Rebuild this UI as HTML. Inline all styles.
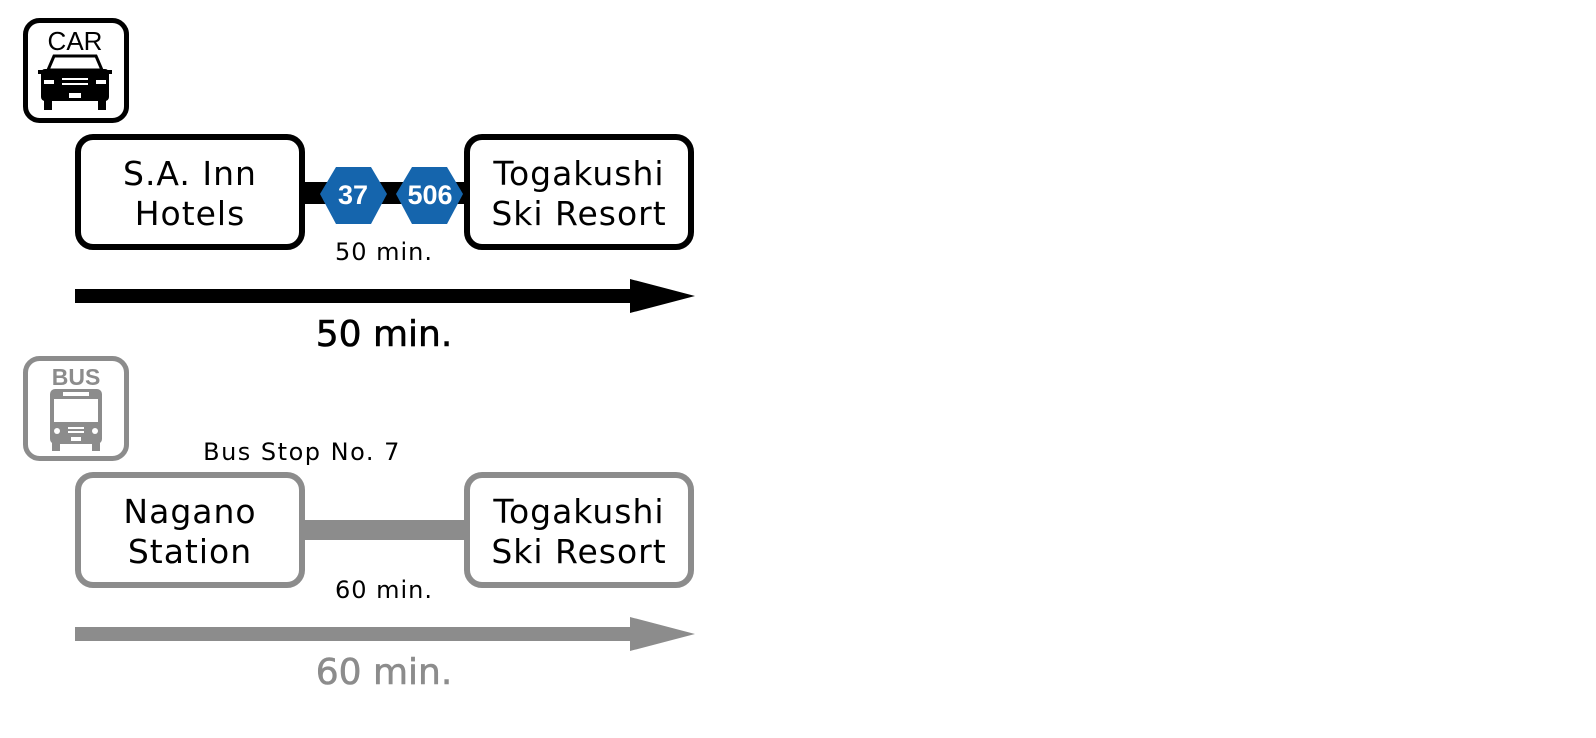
<!DOCTYPE html>
<html><head><meta charset="utf-8"><style>
body{margin:0;width:1596px;height:734px;background:#fff;overflow:hidden;font-family:"DejaVu Sans","Liberation Sans",sans-serif}
</style></head><body>
<svg width="1596" height="734" xmlns="http://www.w3.org/2000/svg" font-family="DejaVu Sans, Liberation Sans, sans-serif">
<!-- CAR icon -->
<rect x="25.5" y="20.5" width="101" height="100" rx="14" fill="#fff" stroke="#000" stroke-width="5"/>
<text x="75" y="50" text-anchor="middle" font-family="Liberation Sans, sans-serif" font-size="26" fill="#000">CAR</text>
<path d="M54 56 L96 56 L102 70 L48 70 Z" fill="none" stroke="#000" stroke-width="3"/>
<rect x="41" y="69" width="68" height="32" rx="4" fill="#000"/>
<rect x="38" y="70" width="6" height="4" fill="#000"/><rect x="106" y="70" width="6" height="4" fill="#000"/>
<rect x="44" y="80" width="10" height="4" fill="#fff"/><rect x="96" y="80" width="10" height="4" fill="#fff"/>
<rect x="62" y="78" width="26" height="2" fill="#fff"/><rect x="62" y="83" width="26" height="2" fill="#fff"/>
<rect x="69" y="93" width="12" height="5" fill="#fff"/>
<rect x="44" y="100" width="8" height="10" fill="#000"/><rect x="98" y="100" width="8" height="10" fill="#000"/>
<!-- car boxes -->
<rect x="302" y="182" width="166" height="22" fill="#000"/>
<rect x="78" y="137" width="224" height="110" rx="15" fill="#fff" stroke="#000" stroke-width="6"/>
<rect x="467" y="137" width="224" height="110" rx="15" fill="#fff" stroke="#000" stroke-width="6"/>
<polygon points="320,194 336,167 371,167 387,194 371,224 336,224" fill="#1565ad"/>
<polygon points="396,194 412,167 447,167 463,194 447,224 412,224" fill="#1565ad"/>
<text x="353" y="204" text-anchor="middle" font-family="Liberation Sans, sans-serif" font-weight="bold" font-size="27" fill="#fff">37</text>
<text x="430" y="204" text-anchor="middle" font-family="Liberation Sans, sans-serif" font-weight="bold" font-size="27" fill="#fff">506</text>
<text x="190" y="185" text-anchor="middle" font-size="33" letter-spacing="1">S.A. Inn</text>
<text x="190" y="225" text-anchor="middle" font-size="33" letter-spacing="1">Hotels</text>
<text x="579" y="185" text-anchor="middle" font-size="33" letter-spacing="1">Togakushi</text>
<text x="579" y="225" text-anchor="middle" font-size="33" letter-spacing="1">Ski Resort</text>
<text x="384" y="260" text-anchor="middle" font-size="24" letter-spacing="1">50 min.</text>
<rect x="75" y="289" width="560" height="14" fill="#000"/>
<polygon points="630,279 695,296 630,313" fill="#000"/>
<text x="384" y="346" text-anchor="middle" font-size="36" stroke="#000" stroke-width="0.6" fill="#000">50 min.</text>
<!-- BUS icon -->
<rect x="25.5" y="358.5" width="101" height="100" rx="14" fill="#fff" stroke="#8c8c8c" stroke-width="5"/>
<text x="76" y="385" text-anchor="middle" font-family="Liberation Sans, sans-serif" font-weight="bold" font-size="23" fill="#8c8c8c">BUS</text>
<rect x="50" y="389" width="52" height="55" rx="5" fill="#8c8c8c"/>
<rect x="63" y="392" width="26" height="4" fill="#fff"/>
<rect x="54" y="399" width="44" height="23" fill="#fff"/>
<circle cx="57" cy="431" r="3" fill="#fff"/><circle cx="95" cy="431" r="3" fill="#fff"/>
<rect x="68" y="427" width="16" height="2" fill="#fff"/><rect x="68" y="431" width="16" height="2" fill="#fff"/>
<rect x="71" y="437" width="10" height="4" fill="#fff"/>
<rect x="52" y="443" width="8" height="8" fill="#8c8c8c"/><rect x="92" y="443" width="8" height="8" fill="#8c8c8c"/>
<text x="302" y="460" text-anchor="middle" font-size="24" letter-spacing="1.5">Bus Stop No. 7</text>
<!-- bus boxes -->
<rect x="302" y="520" width="166" height="20" fill="#8c8c8c"/>
<rect x="78" y="475" width="224" height="110" rx="15" fill="#fff" stroke="#8c8c8c" stroke-width="6"/>
<rect x="467" y="475" width="224" height="110" rx="15" fill="#fff" stroke="#8c8c8c" stroke-width="6"/>
<text x="190" y="523" text-anchor="middle" font-size="33" letter-spacing="1">Nagano</text>
<text x="190" y="563" text-anchor="middle" font-size="33" letter-spacing="1">Station</text>
<text x="579" y="523" text-anchor="middle" font-size="33" letter-spacing="1">Togakushi</text>
<text x="579" y="563" text-anchor="middle" font-size="33" letter-spacing="1">Ski Resort</text>
<text x="384" y="598" text-anchor="middle" font-size="24" letter-spacing="1">60 min.</text>
<rect x="75" y="627" width="560" height="14" fill="#8c8c8c"/>
<polygon points="630,617 695,634 630,651" fill="#8c8c8c"/>
<text x="384" y="684" text-anchor="middle" font-size="36" stroke="#8c8c8c" stroke-width="0.6" fill="#8c8c8c">60 min.</text>
</svg>
</body></html>
